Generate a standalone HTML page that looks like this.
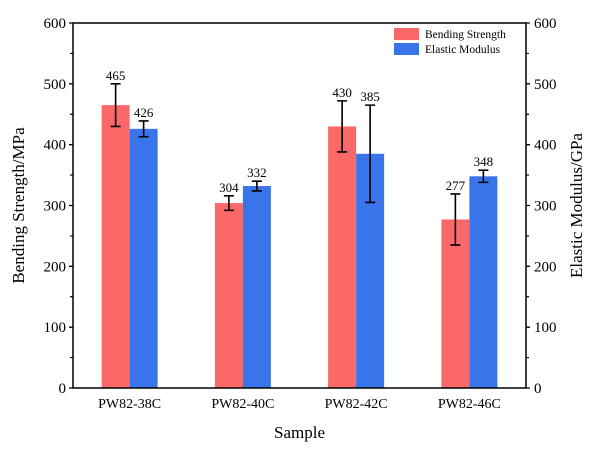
<!DOCTYPE html>
<html><head><meta charset="utf-8"><style>
body{margin:0;background:#fff;}
svg text{font-family:"Liberation Serif",serif;fill:#000;}
</style></head><body>
<svg width="600" height="449" viewBox="0 0 600 449">
<g id="plot"></g>
</svg>
<script>
const categories=["PW82-38C","PW82-40C","PW82-42C","PW82-46C"];
const bendingValues=[465,304,430,277];
const bendingErrors=[35,12,42,42];
const modulusValues=[426,332,385,348];
const modulusErrors=[13,8,80,10];
const yTicks=[0,100,200,300,400,500,600];

const L=73,R=526,T=23,B=388,NS="http://www.w3.org/2000/svg";
const g=document.getElementById('plot');
const y=v=>B-(v/600)*(B-T);
const gw=(R-L)/categories.length;
const xc=i=>L+gw*(i+0.5);
const bw=28;
function el(t,a,txt){const e=document.createElementNS(NS,t);for(const k in a)e.setAttribute(k,a[k]);if(txt!==undefined)e.textContent=txt;g.appendChild(e);return e;}

function bars(vals,errs,color,off,name){
 vals.forEach((v,i)=>{
  const x0=xc(i)+off;
  const r=el('rect',{x:x0,y:y(v),width:bw,height:B-y(v),fill:color});
  
  
  const cx=x0+bw/2,e=errs[i];
  const p=el('path',{d:`M${cx},${y(v+e)}V${y(v-e)}M${cx-5},${y(v+e)}h10M${cx-5},${y(v-e)}h10`,stroke:'#000','stroke-width':1.6,fill:'none'});
  
  
  const t=el('text',{x:cx,y:y(v+e)-4,'font-size':13,'text-anchor':'middle'},v);
  
  
 });
}
bars(bendingValues,bendingErrors,'#fb6868',-bw,'bending');
bars(modulusValues,modulusErrors,'#3a74ea',0,'modulus');

const ax=el('path',{d:`M${L},${T}H${R}V${B}H${L}Z`,fill:'none',stroke:'#000','stroke-width':1.5});


yTicks.forEach(v=>{
 el('path',{d:`M${L},${y(v)}h-4M${R},${y(v)}h4`,stroke:'#000','stroke-width':1.3});
 if(v<600)el('path',{d:`M${L},${y(v+50)}h-3M${R},${y(v+50)}h3`,stroke:'#000','stroke-width':1.2});
 const a=el('text',{x:L-7,y:y(v)+5,'font-size':15,'text-anchor':'end'},v);
 
 
 const b=el('text',{x:R+8,y:y(v)+5,'font-size':15,'text-anchor':'start'},v);
 
 
});
categories.forEach((c,i)=>{
 const t=el('text',{x:xc(i),y:B+20,'font-size':14,'text-anchor':'middle'},c);
 
 
});
let t=el('text',{x:(L+R)/2,y:438,'font-size':17,'text-anchor':'middle'},'Sample');


t=el('text',{x:0,y:0,'font-size':17,'text-anchor':'middle',transform:`translate(24,${(T+B)/2}) rotate(-90)`},'Bending Strength/MPa');


t=el('text',{x:0,y:0,'font-size':17,'text-anchor':'middle',transform:`translate(582,${(T+B)/2}) rotate(-90)`},'Elastic Modulus/GPa');


let r=el('rect',{x:394,y:28,width:25,height:12,fill:'#fb6868'});


r=el('rect',{x:394,y:43,width:25,height:12,fill:'#3a74ea'});


t=el('text',{x:425,y:38,'font-size':11.5},'Bending Strength');


t=el('text',{x:425,y:53,'font-size':11.5},'Elastic Modulus');


</script>
</body></html>
